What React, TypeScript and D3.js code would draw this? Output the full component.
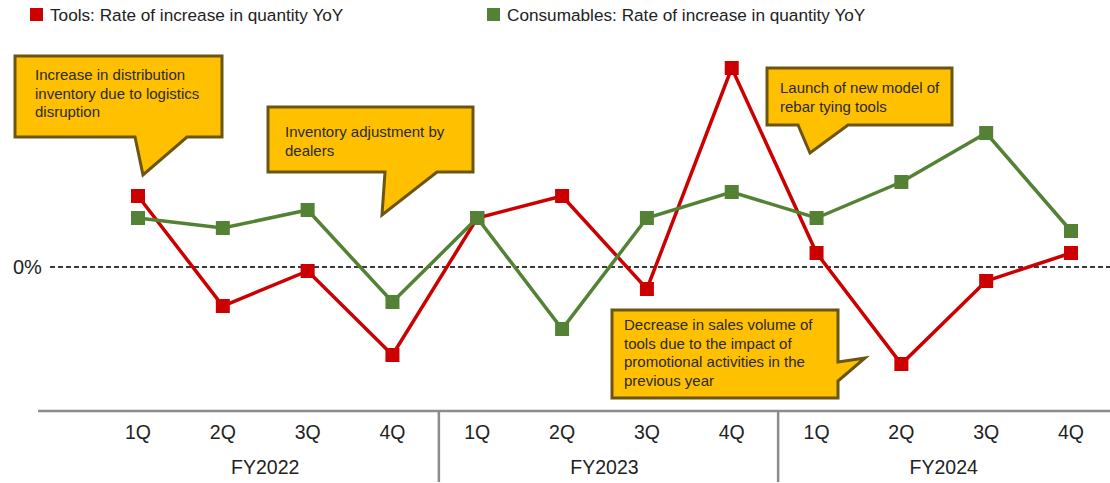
import React from "react";
import * as d3 from "d3";

const quarters = ["1Q", "2Q", "3Q", "4Q", "1Q", "2Q", "3Q", "4Q", "1Q", "2Q", "3Q", "4Q"];
const fiscalYears = ["FY2022", "FY2023", "FY2024"];
const toolsYoY = [7.1, -3.9, -0.4, -8.8, 4.9, 7.1, -2.2, 19.9, 1.4, -9.7, -1.4, 1.4];
const consumablesYoY = [4.9, 3.9, 5.7, -3.5, 4.9, -6.2, 4.9, 7.5, 4.9, 8.5, 13.4, 3.6];
const seriesNames = [
  "Tools: Rate of increase in quantity YoY",
  "Consumables: Rate of increase in quantity YoY",
];

const RED = "#cc0000";
const GREEN = "#548235";
const FILL = "#ffc000";
const BORDER = "#6b5512";
const FONT = "'Liberation Sans', Arial, sans-serif";

type Callout = {
  lines: string[];
  path: string;
  tx: number;
  ty: number;
};

const callouts: Callout[] = [
  {
    lines: ["Increase in distribution", "inventory due to logistics", "disruption"],
    path: "M15,56 H222 V137 H187 L143,175 L135,137 H15 Z",
    tx: 35,
    ty: 80,
  },
  {
    lines: ["Inventory adjustment by", "dealers"],
    path: "M268,107 H473 V172 H437 L382,215 L385,172 H268 Z",
    tx: 285,
    ty: 137,
  },
  {
    lines: ["Decrease in sales volume of", "tools due to the impact of", "promotional activities in the", "previous year"],
    path: "M612,310 H838 V362 L865,358 L838,381 V398 H612 Z",
    tx: 624,
    ty: 330,
  },
  {
    lines: ["Launch of new model of", "rebar tying tools"],
    path: "M767,68 H952 V125 H848 L810,153 L798,125 H767 Z",
    tx: 780,
    ty: 93,
  },
];

export default function App() {
  const width = 1110;
  const height = 483;
  const x = d3
    .scalePoint<number>()
    .domain(d3.range(quarters.length))
    .range([138, 1071]);
  const y = d3.scaleLinear().domain([-14.4, 21]).range([411, 57]);
  const line = d3
    .line<number>()
    .x((_, i) => x(i) as number)
    .y((d) => y(d));

  const step = x.step();
  const axisY = 411;
  const sep1 = (x(3) as number) + step / 2 + 4;
  const sep2 = (x(7) as number) + step / 2 + 4;
  const ms = 14;

  const series = [
    { values: toolsYoY, color: RED },
    { values: consumablesYoY, color: GREEN },
  ];

  return (
    <svg
      width={width}
      height={height}
      style={{ position: "absolute", left: 0, top: 0, fontFamily: FONT }}
    >
      <rect width={width} height={height} fill="#fff" />
      {/* legend */}
      <rect x={30} y={8} width={13} height={13} fill={RED} />
      <text x={50} y={21} fontSize={17.2} fill="#222">
        {seriesNames[0]}
      </text>
      <rect x={487} y={8} width={13} height={13} fill={GREEN} />
      <text x={507} y={21} fontSize={17.2} fill="#222">
        {seriesNames[1]}
      </text>

      {/* zero line */}
      <text x={13} y={274} fontSize={20} fill="#222">
        0%
      </text>
      <line
        x1={50}
        x2={1110}
        y1={y(0)}
        y2={y(0)}
        stroke="#3a3a3a"
        strokeWidth={2}
        strokeDasharray="5,3"
      />

      {/* axis */}
      <line x1={38} x2={1110} y1={axisY} y2={axisY} stroke="#8c8c8c" strokeWidth={2.5} />
      <line x1={sep1} x2={sep1} y1={axisY} y2={482} stroke="#8c8c8c" strokeWidth={2.5} />
      <line x1={sep2} x2={sep2} y1={axisY} y2={482} stroke="#8c8c8c" strokeWidth={2.5} />
      {quarters.map((q, i) => (
        <text
          key={i}
          x={x(i)}
          y={439}
          fontSize={19.5}
          textAnchor="middle"
          fill="#222"
        >
          {q}
        </text>
      ))}
      {fiscalYears.map((fy, j) => (
        <text
          key={fy}
          x={((x(j * 4) as number) + (x(j * 4 + 3) as number)) / 2}
          y={474}
          fontSize={19.5}
          textAnchor="middle"
          fill="#222"
        >
          {fy}
        </text>
      ))}

      {/* series */}
      {series.map((s, k) => (
        <g key={k}>
          <path d={line(s.values) || ""} fill="none" stroke={s.color} strokeWidth={3.5} />
          {s.values.map((v, i) => (
            <rect
              key={i}
              x={(x(i) as number) - ms / 2}
              y={y(v) - ms / 2}
              width={ms}
              height={ms}
              fill={s.color}
            />
          ))}
        </g>
      ))}

      {/* callouts */}
      {callouts.map((c, k) => (
        <g key={k}>
          <path d={c.path} fill={FILL} stroke={BORDER} strokeWidth={3} strokeLinejoin="miter" />
          {c.lines.map((l, i) => (
            <text key={i} x={c.tx} y={c.ty + i * 18.5} fontSize={15} fill="#2a2a2a">
              {l}
            </text>
          ))}
        </g>
      ))}
    </svg>
  );
}
